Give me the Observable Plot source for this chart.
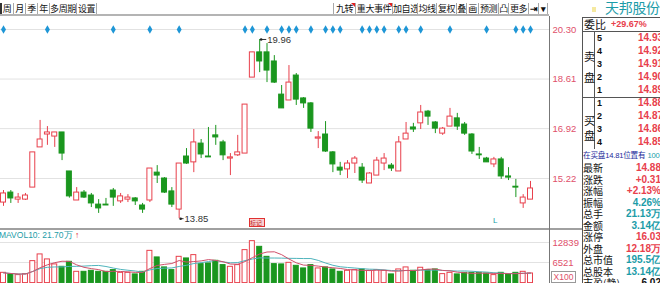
<!DOCTYPE html>
<html><head><meta charset="utf-8">
<script src="https://cdn.jsdelivr.net/npm/d3@7"></script>
<script src="https://cdn.jsdelivr.net/npm/@observablehq/plot@0.6"></script>
<style>
html,body{margin:0;padding:0;background:#fff;overflow:hidden;}
#root{position:relative;width:660px;height:283px;overflow:hidden;font-family:"Noto Sans CJK SC","Liberation Sans",sans-serif;}
.a{position:absolute;white-space:nowrap;}
.btn{position:absolute;top:3px;height:12px;line-height:12px;font-size:9px;letter-spacing:-0.4px;text-align:center;border-right:1px solid #a8a8a8;color:#111;box-sizing:border-box;white-space:nowrap;overflow:hidden;}
.num{font-family:"Liberation Sans",Arial,sans-serif;font-weight:bold;}
svg{position:absolute;left:0;}
</style></head><body><div id="root"></div>
<script>
// ---------- data ----------
const opens  = [14.40,14.74,14.50,14.50,14.91,16.28,16.72,16.65,16.79,15.46,
                14.47,14.74,14.64,14.33,14.33,14.81,14.44,14.50,14.54,14.30,
                14.47,15.42,15.22,14.78,14.16,15.97,15.77,16.41,15.97,16.69,
                16.45,15.90,16.01,16.07,18.66,19.52,19.52,19.21,18.08,17.88,
                18.73,17.95,17.78,16.58,16.72,16.11,15.59,15.53,15.73,15.59,
                15.05,15.32,15.73,15.66,15.46,16.55,16.96,17.10,17.50,17.13,
                16.75,16.99,17.27,17.06,16.72,16.04,15.90,15.70,15.87,15.29,
                14.94,14.37,14.50];
const closes = [14.71,14.54,14.57,14.64,16.11,16.55,16.79,16.79,16.07,14.61,
                14.74,14.57,14.37,14.20,14.30,14.57,14.61,14.57,14.44,14.16,
                15.56,15.32,14.74,14.33,15.73,15.73,16.45,16.04,15.94,16.62,
                16.01,15.94,16.11,17.74,19.52,19.21,18.90,18.49,17.61,18.49,
                17.91,17.78,16.92,16.62,16.14,15.70,15.49,15.73,15.90,15.15,
                15.39,15.83,15.90,15.56,16.45,16.75,16.89,17.47,17.33,16.92,
                16.92,17.33,16.99,16.75,16.14,16.01,15.77,15.87,15.29,15.25,
                14.91,14.57,14.88];
const highs  = [14.81,14.81,14.71,14.71,16.11,17.20,16.99,16.79,16.79,15.46,
                14.91,14.81,14.71,14.50,14.54,14.88,14.71,14.67,14.57,14.37,
                15.56,15.66,15.25,14.91,15.73,16.24,16.89,16.55,16.96,17.03,
                16.52,16.07,16.69,17.74,19.52,19.96,19.82,19.41,18.39,19.07,
                18.80,17.98,17.81,16.82,17.16,16.14,15.77,15.83,15.97,15.73,
                15.42,15.94,16.07,15.73,16.65,17.13,17.10,17.71,17.54,17.16,
                16.96,17.61,17.44,17.13,16.75,16.28,15.94,15.94,15.94,15.59,
                15.19,14.67,15.12];
const lows   = [14.27,14.37,14.37,14.47,14.91,16.28,16.35,16.28,15.83,14.55,
                14.47,14.54,14.23,14.03,14.30,14.27,14.37,14.40,14.30,14.03,
                14.40,15.05,14.71,14.23,13.85,15.70,15.42,15.90,15.94,16.35,
                15.83,15.32,15.97,16.07,18.66,18.83,18.49,18.46,17.61,17.88,
                17.71,17.61,16.79,16.24,16.11,15.42,15.32,15.22,15.39,15.05,
                15.05,15.32,15.49,15.46,15.46,16.55,16.79,16.89,17.03,16.75,
                16.69,16.99,16.86,16.69,16.04,15.87,15.77,15.59,15.19,15.15,
                14.57,14.20,14.50];
// volume, in units of 100 lots
const volumes = [3250,2840,2530,2840,6950,9070,7490,5910,5150,6730,
                 3570,3570,3890,3570,3570,4110,3250,3250,2750,3570,
                 10200,8120,4960,4110,8310,7800,8850,6000,6220,7050,
                 5690,5150,5690,10430,13270,11470,8310,6000,5910,6410,
                 5470,4640,5690,4640,4960,4320,3570,3890,4110,4320,
                 3890,4110,3890,2750,4320,4960,3890,4850,4110,4320,
                 2840,3250,2750,3250,3250,3250,3040,2530,3250,2840,
                 3250,3570,3040];
const priceTicks = [15.22, 16.92, 18.61, 20.30];
const volTicks = [6521, 12839];
const signalDays = [0,6,15,20,24,33,34,36,38,39,40,42,44,45,46,49,50,51,52,54,55,57,61,66,70,71,72];

const leftTools = ["周","月","季","年","多周期","设置"];
const rightTools = ["九转","重大事件","加自选","均线","复权","叠","画","预测","凸","更多","⇥","▾"];
const stockName = "天邦股份";
const weibi = ["委比", "+29.67%"];
const askLevels = ["5","4","3","2","1"];
const askPrices = ["14.93","14.92","14.91","14.90","14.89"];
const bidLevels = ["1","2","3","4"];
const bidPrices = ["14.88","14.87","14.86","14.85"];
const bidNote = ["在买盘", "14.81", "位置有", "100"];
const quoteLabels = ["最新","涨跌","涨幅","振幅","总手","金额","涨停","外盘","总市值","总股本","市盈(静)"];
const quoteValues = ["14.88","+0.31","+2.13%","4.26%","21.13万","3.14亿","16.03","12.18万","195.5亿","13.14亿","6.02"];
const mavolText = "MAVOL10: 21.70万";
const volUnit = "X100";

// ---------- styles ----------
const RED = "#e8404c", GREEN = "#1a961e", BLUE = "#1e96d6", TEAL = "#1c9ca8", AXIS = "#e0506a";
const root = document.getElementById("root");
function el(cls, css, text, parent = root) {
  const d = document.createElement("div");
  d.className = cls; d.style.cssText = css; if (text != null) d.textContent = text;
  parent.appendChild(d); return d;
}

// ---------- toolbar ----------
const leftEdges = [1,14,26,38,50,77,97];
leftTools.forEach((t, k) => el("btn", `left:${leftEdges[k]}px;width:${leftEdges[k+1]-leftEdges[k]}px;`, t));
el("a", "left:0;top:3px;width:2px;height:12px;background:#333;");
const rightEdges = [334,356,393,418,437,457,467,479,499,509,529,539,548];
rightTools.forEach((t, k) => {
  const b = el("btn", `left:${rightEdges[k]}px;width:${rightEdges[k+1]-rightEdges[k]}px;${k>=10?"font-weight:bold;":""}`, t);
  if (k < 2) el("a", `right:0;top:0;width:0;height:0;border-top:4px solid #e02020;border-left:4px solid transparent;`, null, b);
});
el("a", "left:333px;top:3px;width:1px;height:12px;background:#a8a8a8;");
el("a", "left:0;top:14px;width:549px;height:2px;background:#b4b4b4;");

// ---------- charts ----------
const N = closes.length;
const candles = d3.range(N).map(i => ({i, open: opens[i], high: highs[i], low: lows[i], close: closes[i], vol: volumes[i], up: closes[i] >= opens[i]}));
const ups = candles.filter(d => d.up), downs = candles.filter(d => !d.up);
const xScale = {type: "linear", domain: [0, N - 1], range: [3, 530], axis: null};
const hw = 0.34;
const maxI = d3.maxIndex(highs), minI = d3.minIndex(lows);

const price = Plot.plot({
  width: 583, height: 212, marginLeft: 0, marginRight: 34, marginTop: 0, marginBottom: 0,
  x: xScale,
  y: {domain: [priceTicks[0], priceTicks[3]], range: [162, 13], axis: null, label: null},
  style: {background: "transparent", fontFamily: "Liberation Sans, Arial, sans-serif"},
  marks: [
    Plot.ruleY(priceTicks, {stroke: "#e2e2e2"}),
    Plot.ruleX(ups, {x: "i", y1: "low", y2: "high", stroke: RED}),
    Plot.ruleX(downs, {x: "i", y1: "low", y2: "high", stroke: GREEN}),
    Plot.rect(ups, {x1: d => d.i - hw, x2: d => d.i + hw, y1: "open", y2: "close", fill: "#fff", stroke: RED}),
    Plot.rect(downs, {x1: d => d.i - hw, x2: d => d.i + hw, y1: "open", y2: "close", fill: GREEN, stroke: GREEN}),
    Plot.dot(signalDays, {x: d => d, y: () => priceTicks[3], symbol: "diamond", r: 2.6, fill: BLUE}),
    Plot.link([maxI], {x1: d => d + 0.15, x2: d => d + 0.9, y1: d => highs[d], y2: d => highs[d], stroke: "#333"}),
    Plot.dot([maxI], {x: d => d + 0.2, y: d => highs[d], r: 1.3, fill: "#222"}),
    Plot.text([maxI], {x: d => d + 0.9, y: d => highs[d], text: d => highs[d].toFixed(2), textAnchor: "start", dx: 1, fill: "#333", fontSize: 9.5}),
    Plot.link([minI], {x1: d => d + 0.15, x2: d => d + 0.6, y1: d => lows[d], y2: d => lows[d], stroke: "#333"}),
    Plot.dot([minI], {x: d => d + 0.2, y: d => lows[d], r: 1.3, fill: "#222"}),
    Plot.text([minI], {x: d => d + 0.6, y: d => lows[d], text: d => lows[d].toFixed(2), textAnchor: "start", dx: 1, fill: "#333", fontSize: 9.5}),
    Plot.axisY(priceTicks, {anchor: "right", tickSize: 0, tickPadding: 3, tickFormat: d => d.toFixed(2), fill: AXIS, fontSize: 9.5, label: null})
  ]
});
price.style.top = "16px";
root.appendChild(price);

const vol = Plot.plot({
  width: 583, height: 54, marginLeft: 0, marginRight: 34, marginTop: 0, marginBottom: 0,
  x: xScale,
  y: {domain: [0, volTicks[1]], range: [53.6, 13], axis: null, label: null},
  style: {background: "transparent", fontFamily: "Liberation Sans, Arial, sans-serif"},
  marks: [
    Plot.ruleY(volTicks, {stroke: "#e2e2e2"}),
    Plot.rect(ups, {x1: d => d.i - hw, x2: d => d.i + hw, y1: 0, y2: "vol", fill: "#fff", stroke: RED}),
    Plot.rect(downs, {x1: d => d.i - hw, x2: d => d.i + hw, y1: 0, y2: "vol", fill: GREEN, stroke: GREEN}),
    Plot.lineY(candles, Plot.windowY({k: 10, anchor: "end", reduce: "mean"}, {x: "i", y: "vol", stroke: "#4fb4bc", strokeWidth: 1})),
    Plot.lineY(candles, Plot.windowY({k: 5, anchor: "end", reduce: "mean"}, {x: "i", y: "vol", stroke: "#d0506a", strokeWidth: 1})),
    Plot.axisY(volTicks, {anchor: "right", tickSize: 0, tickPadding: 3, tickFormat: d => String(d), fill: AXIS, fontSize: 9.5, label: null})
  ]
});
vol.style.top = "229px";
root.appendChild(vol);

// ---------- chart annotations ----------
el("a", "left:0;top:228px;width:583px;height:2px;background:#a0a0a0;");
const mv = el("a", `left:-1px;top:230px;font-size:8.5px;line-height:10px;color:${TEAL};font-family:'Liberation Sans',Arial,sans-serif;`, mavolText);
const arrow = document.createElement("span");
arrow.textContent = " ↑"; arrow.style.cssText = "color:#e02020;font-weight:bold;";
mv.appendChild(arrow);
el("a", `left:551px;top:271px;width:23px;height:10px;border:1px solid #999;font-size:8.5px;line-height:10px;text-align:center;color:${AXIS};font-family:'Liberation Sans',Arial,sans-serif;`, volUnit);
el("a", `left:249px;top:218px;width:14px;height:7px;border:1px solid #e03030;background:#f8d0d0;font-size:6px;line-height:7px;color:#c02020;overflow:hidden;`, "标记");
el("a", `left:493px;top:216px;font-size:8px;line-height:10px;color:${TEAL};font-family:'Liberation Sans',Arial,sans-serif;`, "L");
el("a", "left:549px;top:16px;width:1px;height:267px;background:#777;");
el("a", "left:582px;top:17px;width:1px;height:266px;background:#555;");

// ---------- right panel ----------
el("a", "left:592px;top:7px;width:4px;height:5px;background:#f5e9a0;");
el("a", `left:605px;top:-1px;font-size:14px;line-height:17px;color:${TEAL};letter-spacing:-0.3px;`, stockName);
el("a", "left:582px;top:17px;width:78px;height:1px;background:#555;");
el("a", "left:584px;top:18px;font-size:11px;line-height:13px;color:#111;", weibi[0]);
el("a num", `left:611px;top:19px;font-size:9px;line-height:11px;color:${RED};`, weibi[1]);
el("a", "left:582px;top:31px;width:78px;height:1px;background:#555;");
el("a", "left:594px;top:31px;width:1px;height:118px;background:#555;");
el("a", "left:582px;top:97px;width:78px;height:1px;background:#555;");
el("a", "left:584px;top:50px;font-size:11px;line-height:12px;color:#111;", "卖");
el("a", "left:584px;top:71px;font-size:11px;line-height:12px;color:#111;", "盘");
el("a", "left:584px;top:114px;font-size:11px;line-height:12px;color:#111;", "买");
el("a", "left:584px;top:129px;font-size:11px;line-height:12px;color:#111;", "盘");
const askY = [38, 51, 64, 77, 90];
askLevels.forEach((t, k) => {
  el("a num", `left:597px;top:${askY[k]-5}px;font-size:9px;line-height:10px;color:#111;`, t);
  el("a num", `left:638px;top:${askY[k]-5}px;font-size:10px;line-height:10px;color:${RED};`, askPrices[k]);
});
const bidY = [103, 116, 129, 142];
bidLevels.forEach((t, k) => {
  el("a num", `left:597px;top:${bidY[k]-5}px;font-size:9px;line-height:10px;color:#111;`, t);
  el("a num", `left:638px;top:${bidY[k]-5}px;font-size:10px;line-height:10px;color:${RED};`, bidPrices[k]);
});
const note = el("a", "left:583px;top:150px;font-size:7.6px;line-height:9px;color:#1a2a9a;letter-spacing:-0.2px;", null);
[[bidNote[0], ""], [bidNote[1], "font-family:'Liberation Sans',Arial,sans-serif;"], [bidNote[2], ""], [bidNote[3], `color:${TEAL};font-family:'Liberation Sans',Arial,sans-serif;margin-left:2px;`]].forEach(([t, css]) => {
  const s = document.createElement("span"); s.textContent = t; s.style.cssText = css; note.appendChild(s);
});
const quoteColors = [RED, RED, RED, TEAL, TEAL, TEAL, RED, RED, TEAL, TEAL, "#111"];
quoteLabels.forEach((t, k) => {
  const cy = 168 + 11.5 * k;
  el("a", `left:583px;top:${cy-5}px;font-size:10px;line-height:10px;color:#111;`, t);
  el("a num", `right:-1px;top:${cy-5}px;font-size:10px;line-height:10px;color:${quoteColors[k]};`, quoteValues[k]);
});
</script></body></html>
